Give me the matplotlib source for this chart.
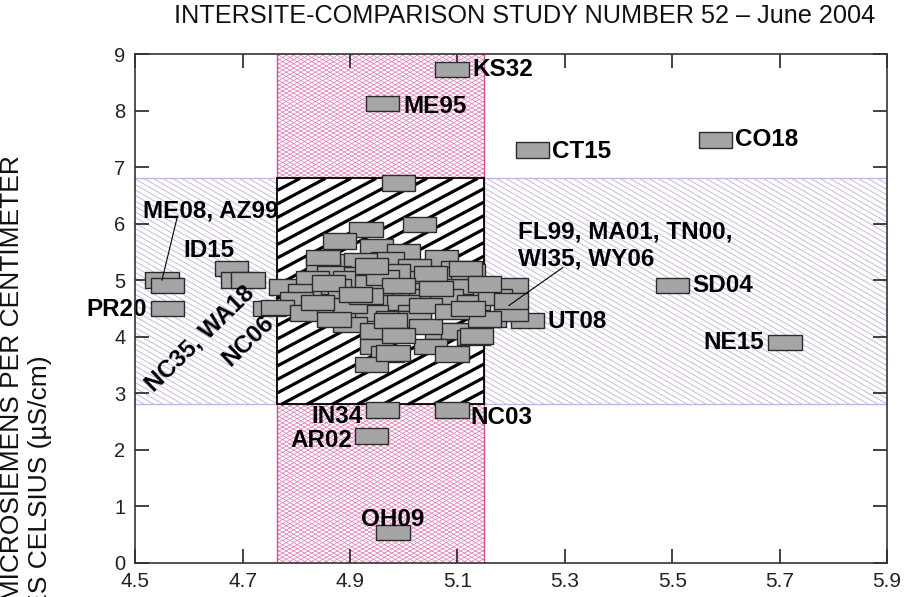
import matplotlib
matplotlib.use('Agg')
import numpy as np
import matplotlib.pyplot as plt
from matplotlib.patches import Rectangle
from matplotlib.collections import LineCollection

plt.rcParams['font.family'] = ['Liberation Sans', 'DejaVu Sans']

# ── site results: pH vs specific conductance ─────────────────────
ph = [
    5.09, 4.96, 5.24, 5.58, 4.99, 5.50, 5.71, 5.23, 4.96, 5.09, 4.94, 4.98,
    4.55, 4.56, 4.56, 4.68, 4.69, 4.71, 4.75, 4.78,
    5.03, 4.93, 4.88, 4.95, 5.00, 5.07, 4.97, 4.88, 4.92, 4.85, 5.02, 5.10,
    4.87, 4.92, 4.83, 4.90, 5.02, 5.08, 4.87, 4.95, 5.01, 5.11, 4.815, 4.89,
    5.04, 5.08, 5.16, 4.80, 4.765, 4.97, 5.00, 5.13, 4.82, 4.87, 4.92, 4.94,
    5.02, 4.98, 5.02, 5.16, 4.90, 4.95, 5.07, 5.10, 5.13, 4.95, 4.97, 5.05,
    5.09, 4.94, 5.20, 5.17, 5.20, 5.15, 5.135, 5.20, 4.98, 4.975,
    4.86, 4.94, 4.98, 5.05, 4.96, 5.04, 4.90, 4.84, 5.06, 4.99, 4.93, 4.87,
    5.04, 4.99, 4.85, 5.12, 4.94, 5.09, 5.12, 5.115, 5.15, 4.91,
]
cond = [
    8.72, 8.12, 7.30, 7.48, 6.72, 4.91, 3.90, 4.29, 2.70, 2.70, 2.24, 0.53,
    5.00, 4.90, 4.50, 5.20, 5.00, 5.00, 4.50, 4.88,
    5.99, 5.90, 5.69, 5.60, 5.50, 5.39, 5.37, 5.33, 5.34, 5.23, 5.23, 5.21,
    5.11, 5.10, 5.02, 5.02, 5.02, 5.09, 4.89, 4.81, 4.81, 4.89, 4.79, 4.69,
    4.70, 4.70, 4.70, 4.66, 4.51, 4.60, 4.60, 4.61, 4.42, 4.51, 4.42, 4.42,
    4.42, 4.31, 4.31, 4.31, 4.21, 4.10, 4.10, 4.10, 3.99, 3.82, 3.69, 3.82,
    3.69, 3.50, 4.91, 4.70, 4.42, 4.31, 4.01, 4.63, 3.71, 4.29,
    4.95, 4.95, 5.15, 5.12, 5.05, 4.55, 4.55, 4.60, 4.85, 4.90, 4.72, 4.30,
    4.18, 4.02, 5.40, 5.15, 5.25, 4.45, 4.50, 5.21, 4.93, 4.74,
]

# median +/- acceptance limits
ph_band = (4.765, 5.15)
cond_band = (2.8, 6.8)

BOX_W, BOX_H = 0.062, 0.27

fig = plt.figure(figsize=(9.07, 5.97), dpi=100)
fig.patch.set_facecolor('white')
ax = fig.add_axes([0.149, 0.0575, 0.829, 0.852])
ax.set_xlim(4.5, 5.9)
ax.set_ylim(0, 9)


def hatch(ax, x0, x1, y0, y1, angle, step, color, lw, zorder):
    """Parallel lines at `angle` deg (screen space), `step` px apart vertically,
    cut to the rectangle x0..x1, y0..y1."""
    (px0, py0), (px1, py1) = ax.transData.transform([(x0, y0), (x1, y1)])
    k = np.tan(np.radians(angle))
    cs = [py0 - k * px0, py0 - k * px1, py1 - k * px0, py1 - k * px1]
    inv = ax.transData.inverted()
    segs = []
    for c in np.arange(min(cs), max(cs) + step, step):
        xa, xb = sorted([(py0 - c) / k, (py1 - c) / k])
        lo, hi = max(px0, xa), min(px1, xb)
        if hi <= lo:
            continue
        segs.append(inv.transform([(lo, k * lo + c), (hi, k * hi + c)]))
    ax.add_collection(LineCollection(segs, colors=color, linewidths=lw,
                                     zorder=zorder))


xmin, xmax = ax.get_xlim()
ymin, ymax = ax.get_ylim()

# horizontal band (conductance limits) - light purple diagonal
hatch(ax, xmin, xmax, *cond_band, -30, 5.5, '#bda6da', 0.55, 0.6)
for yb in cond_band:
    ax.axhline(yb, color='#c8b4e0', lw=1.0, zorder=0.7)

# vertical band (pH limits) - pink cross-hatch
for a in (30, -30):
    hatch(ax, *ph_band, ymin, ymax, a, 4.2, '#d865ab', 0.45, 0.8)
for xb in ph_band:
    ax.axvline(xb, color='#d0509e', lw=1.0, zorder=0.9)

# overlap of both limits - white with bold black hatch
box = dict(xy=(ph_band[0], cond_band[0]), width=ph_band[1] - ph_band[0],
           height=cond_band[1] - cond_band[0])
ax.add_patch(Rectangle(**box, facecolor='white', edgecolor='none', zorder=1.0))
hatch(ax, *ph_band, *cond_band, 28, 13.5, 'black', 2.3, 1.1)
ax.add_patch(Rectangle(**box, facecolor='none', edgecolor='black', lw=1.3,
                       zorder=1.2))

# site boxes
for x, y in zip(ph, cond):
    ax.add_patch(Rectangle((x - BOX_W / 2, y - BOX_H / 2), BOX_W, BOX_H,
                           facecolor='#a5a5a5', edgecolor='#2a2a2a',
                           lw=1.0, zorder=3))

# site labels
lab = dict(fontsize=17.5, fontweight='bold', color='black', zorder=4)
ax.text(5.128, 8.72, 'KS32', ha='left', va='center', **lab)
ax.text(5.0, 8.08, 'ME95', ha='left', va='center', **lab)
ax.text(5.277, 7.28, 'CT15', ha='left', va='center', **lab)
ax.text(5.617, 7.48, 'CO18', ha='left', va='center', **lab)
ax.text(5.537, 4.90, 'SD04', ha='left', va='center', **lab)
ax.text(5.67, 3.90, 'NE15', ha='right', va='center', **lab)
ax.text(5.267, 4.26, 'UT08', ha='left', va='center', **lab)
ax.text(4.924, 2.58, 'IN34', ha='right', va='center', **lab)
ax.text(5.125, 2.56, 'NC03', ha='left', va='center', **lab)
ax.text(4.905, 2.17, 'AR02', ha='right', va='center', **lab)
ax.text(4.98, 0.77, 'OH09', ha='center', va='center', **lab)
ax.text(4.514, 6.22, 'ME08, AZ99', ha='left', va='center', **lab)
ax.text(4.59, 5.53, 'ID15', ha='left', va='center', **lab)
ax.text(4.522, 4.48, 'PR20', ha='right', va='center', **lab)
ax.text(4.62, 3.97, 'NC35, WA18', ha='center', va='center', rotation=44, **lab)
ax.text(4.71, 3.92, 'NC06', ha='center', va='center', rotation=44, **lab)
ax.text(5.212, 5.85, 'FL99, MA01, TN00,', ha='left', va='center', **lab)
ax.text(5.212, 5.37, 'WI35, WY06', ha='left', va='center', **lab)

# leader lines
ax.plot([4.578, 4.55], [6.10, 5.00], color='black', lw=0.8, zorder=4)
ax.plot([5.296, 5.196], [5.22, 4.55], color='black', lw=0.8, zorder=4)

# axes styling
ax.set_xticks(np.arange(4.5, 5.91, 0.2))
ax.set_xticklabels([f'{v:.1f}' for v in np.arange(4.5, 5.91, 0.2)])
ax.set_yticks(range(0, 10))
ax.tick_params(direction='in', length=10, width=1.2, top=True, right=True,
               labelsize=14.5, colors='#222222')
ax.tick_params(axis='x', pad=7, labelsize=15)
ax.tick_params(axis='y', pad=7)
for s in ax.spines.values():
    s.set_linewidth(1.2)
    s.set_color('#333333')
    s.set_zorder(5)

fig.text(0.578, 0.973, 'INTERSITE-COMPARISON STUDY NUMBER 52 \u2013 June 2004',
         ha='center', va='center', fontsize=18.2, color='#111111')

# y-axis title, two centred lines (runs past the lower figure edge)
yl1 = fig.text(0.013, 1 - 155 / 597,
               'SPECIFIC CONDUCTANCE, IN MICROSIEMENS PER CENTIMETER',
               rotation=90, rotation_mode='anchor', ha='right', va='center',
               fontsize=19, color='#111111')
bb = yl1.get_window_extent(renderer=fig.canvas.get_renderer())
yc = (bb.y0 + bb.y1) / 2 / fig.bbox.height
fig.text(0.044, yc, 'AT 25 DEGREES CELSIUS (\u00b5S/cm)',
         rotation=90, rotation_mode='anchor', ha='center', va='center',
         fontsize=19, color='#111111')

plt.savefig('out.png', dpi=100, facecolor='white')
